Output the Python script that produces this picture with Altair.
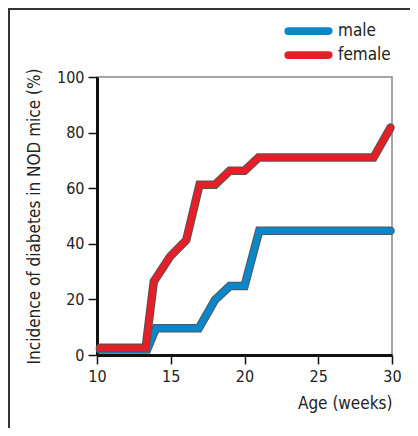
import altair as alt
import pandas as pd

# Data
male_age = [10.2, 13.4, 14.0, 16.9, 18.0, 19.0, 20.0, 21.0, 29.9]
male_inc = [2.0, 2.0, 9.6, 9.6, 19.8, 24.8, 24.8, 44.7, 44.7]
female_age = [10.2, 13.3, 13.85, 14.95, 16.05, 16.95, 18.0, 19.0, 20.0, 20.95, 28.75, 29.9]
female_inc = [2.6, 2.6, 26.4, 35.4, 41.3, 61.2, 61.2, 66.3, 66.3, 71.0, 71.0, 81.8]
series = ["male", "female"]
colors = ["#0a87c9", "#e41f28"]
x_ticks = [10, 15, 20, 25, 30]
y_ticks = [0, 20, 40, 60, 80, 100]

FONT = "DejaVu Sans Condensed, Liberation Sans Narrow, sans-serif"

df = pd.concat([
    pd.DataFrame({"age": male_age, "inc": male_inc, "sex": "male", "o": range(len(male_age))}),
    pd.DataFrame({"age": female_age, "inc": female_inc, "sex": "female", "o": range(len(female_age))}),
])

x = alt.X("age:Q", scale=alt.Scale(domain=[10, 30], nice=False),
          axis=alt.Axis(values=x_ticks, title="Age (weeks)", titleAnchor="end",
                        titleAlign="right", titlePadding=11, labelPadding=4,
                        labelFlush=False))
y = alt.Y("inc:Q", scale=alt.Scale(domain=[0, 100], nice=False),
          axis=alt.Axis(values=y_ticks, title="Incidence of diabetes in NOD mice (%)",
                        titlePadding=13, labelPadding=4, labelFlush=False))

color = alt.Color("sex:N", scale=alt.Scale(domain=series, range=colors),
                  legend=alt.Legend(title=None, orient="none", legendX=186, legendY=-58,
                                    symbolType="M-0.9,-0.05L0.9,-0.05A0.05,0.05 0 0 1 0.9,0.05L-0.9,0.05A0.05,0.05 0 0 1 -0.9,-0.05Z",
                                    symbolSize=2025, symbolStrokeWidth=5.5, clipHeight=24,
                                    labelFontSize=17, labelFont=FONT, labelColor="#222",
                                    rowPadding=0, labelOffset=4))

base = alt.Chart(df)
layers = []
for s in series:
    sub = base.transform_filter(alt.datum.sex == s)
    layers.append(sub.mark_line(strokeWidth=8.5, color="#555", strokeCap="round").encode(
        x=x, y=y, order="o:Q"))
    layers.append(sub.mark_line(strokeWidth=6.5, strokeCap="round").encode(
        x=x, y=y, order="o:Q", color=color))

frame_left = alt.Chart(pd.DataFrame({"a": [0]})).mark_rule(color="#333", strokeWidth=2).encode(
    x=alt.value(-88), y=alt.value(-68), y2=alt.value(400))
frame_top = alt.Chart(pd.DataFrame({"a": [0]})).mark_rule(color="#333", strokeWidth=2).encode(
    x=alt.value(-89), x2=alt.value(320), y=alt.value(-68))

chart = alt.layer(frame_left, frame_top, *layers).properties(
    width=295, height=278,
    autosize=alt.AutoSizeParams(type="none"),
    padding={"left": 89, "top": 69, "right": 18, "bottom": 73},
).configure_view(stroke="#888", strokeWidth=1.5).configure_axis(
    grid=False, domainColor="#111", domainWidth=3, tickColor="#111", tickWidth=1.5,
    tickSize=9, labelFont=FONT, labelFontSize=16, labelColor="#222",
    titleFont=FONT, titleFontSize=17, titleFontWeight="normal", titleColor="#222",
)

chart.save("out.html", embed_options={"renderer": "svg", "actions": False})
